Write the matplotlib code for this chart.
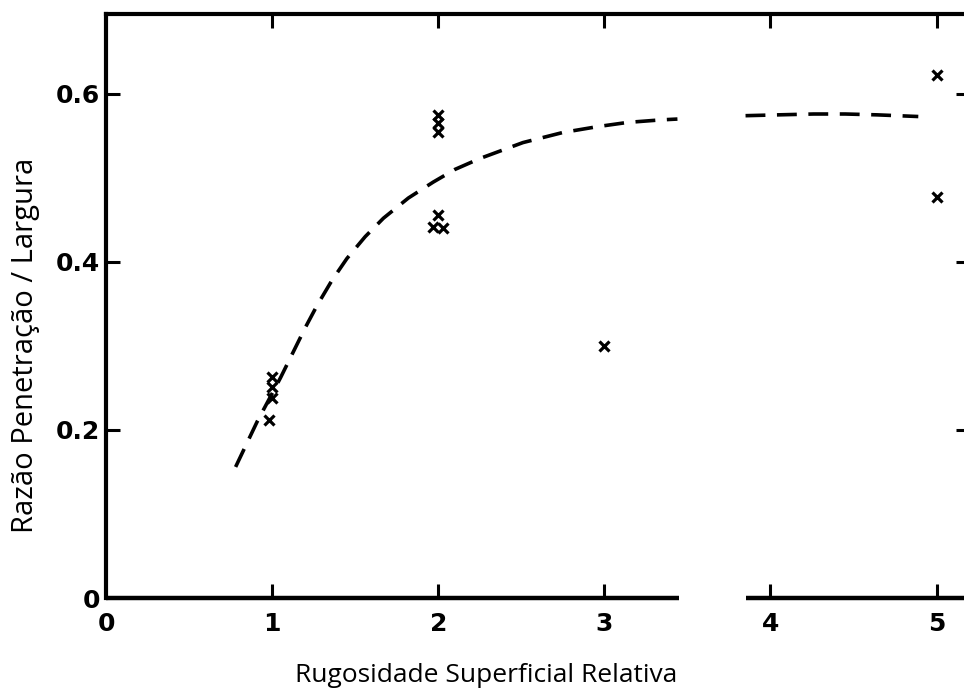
import numpy as np
import matplotlib.pyplot as plt

# measured points: penetration/width ratio vs relative surface roughness
rough_x = [1.0, 1.0, 1.0, 0.98, 2.0, 2.0, 2.0, 1.97, 2.03, 2.0, 3.0, 5.0, 5.0]
ratio_y = [0.263, 0.251, 0.238, 0.212, 0.575, 0.565, 0.554, 0.442, 0.440, 0.456, 0.300, 0.623, 0.477]

# trend curve, drawn in two pieces (broken near x = 3.6)
curve_a_x = [0.78, 0.91, 1.05, 1.12, 1.20, 1.27, 1.36, 1.45, 1.56, 1.67, 1.82, 1.97,
             2.10, 2.25, 2.51, 2.75, 2.96, 3.14, 3.34, 3.44]
curve_a_y = [0.156, 0.210, 0.262, 0.290, 0.322, 0.348, 0.378, 0.404, 0.430, 0.452, 0.476, 0.495,
             0.510, 0.523, 0.542, 0.554, 0.561, 0.566, 0.569, 0.570]
curve_b_x = [3.85, 4.05, 4.26, 4.45, 4.64, 4.89]
curve_b_y = [0.574, 0.575, 0.576, 0.576, 0.575, 0.573]

xticks = [0, 1, 2, 3, 4, 5]
yticks = [0, 0.2, 0.4, 0.6]
ytick_labels = ['0', '0.2', '0.4', '0.6']

fig = plt.figure(figsize=(9.64, 6.90), dpi=100)
ax = fig.add_axes([0.110, 0.1333, 0.896, 0.8464])

ax.plot(curve_a_x, curve_a_y, color='black', lw=2.6, dashes=(5.5, 3.2))
ax.plot(curve_b_x, curve_b_y, color='black', lw=2.6, dashes=(5.5, 3.2))
ax.plot(rough_x, ratio_y, linestyle='none', marker='x', color='black',
        markersize=7, markeredgewidth=2.3)

ax.set_xlim(0, 5.2)
ax.set_ylim(0, 0.695)

# bottom axis line has a break around x = 3.6
ax.spines['bottom'].set_visible(False)
ax.hlines([0, 0], [0, 3.85], [3.45, 5.2], color='black', lw=3.2, clip_on=False)
for side in ['left', 'top', 'right']:
    ax.spines[side].set_linewidth(3.0)

ax.set_xticks(xticks)
ax.set_xticklabels([str(t) for t in xticks])
ax.set_yticks(yticks)
ax.set_yticklabels(ytick_labels)
ax.tick_params(direction='in', length=10, width=2.2, top=True, right=True,
               labelsize=18)
ax.tick_params(axis='x', pad=10)
ax.tick_params(axis='y', pad=4)
for lab in ax.get_xticklabels() + ax.get_yticklabels():
    lab.set_fontweight('bold')
ax.xaxis.get_major_ticks()[0].tick1line.set_visible(False)
ax.xaxis.get_major_ticks()[0].tick2line.set_visible(False)
ax.yaxis.get_major_ticks()[0].tick1line.set_visible(False)
ax.yaxis.get_major_ticks()[0].tick2line.set_visible(False)

fig.text(0.504, 0.021, 'Rugosidade Superficial Relativa', fontsize=19,
         family='Open Sans', ha='center', va='center')
fig.text(0.026, 0.50, 'Razão Penetração / Largura', fontsize=21,
         family='Open Sans', ha='center', va='center', rotation=90)

plt.savefig('out.png', dpi=100)
